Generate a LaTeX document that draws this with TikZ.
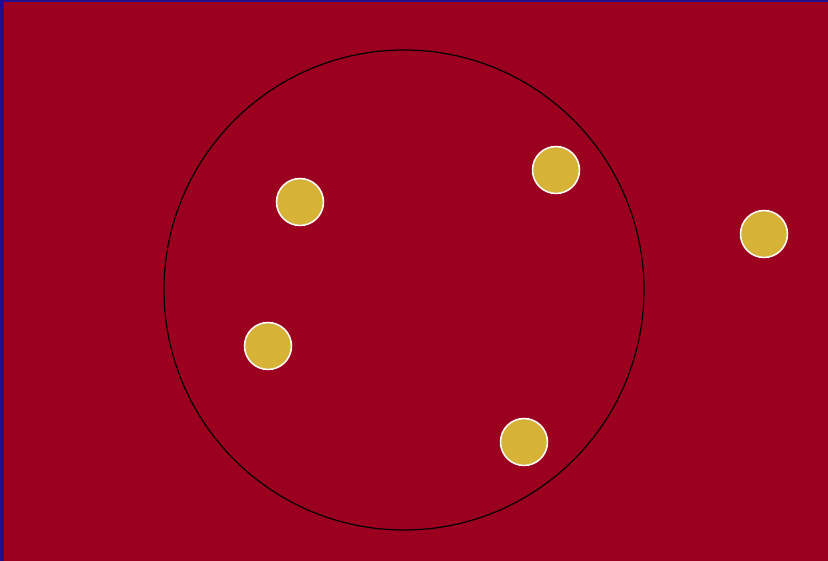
\documentclass[tikz,border=0pt]{standalone}
\definecolor{bgblue}{HTML}{1E108A}
\definecolor{bgred}{HTML}{9C001F}
\definecolor{dotgold}{HTML}{D6B336}
\tikzset{dot/.style={circle,fill=dotgold,draw=white,line width=1.5pt,minimum size=47pt,inner sep=0pt}}
\begin{document}
\begin{tikzpicture}[x=1pt,y=-1pt]
\fill[bgblue] (0,0) rectangle (828,561);
\fill[bgred] (4,2) rectangle (828,561);
\useasboundingbox (0,0) rectangle (828,561);
\node[circle,draw=black,line width=1.2pt,minimum size=480pt,inner sep=0pt] (big) at (404,290) {};
\node[dot] (d1) at (300,202) {};
\node[dot] (d2) at (556,170) {};
\node[dot] (d3) at (764,234) {};
\node[dot] (d4) at (268,346) {};
\node[dot] (d5) at (524,442) {};
\end{tikzpicture}
\end{document}
